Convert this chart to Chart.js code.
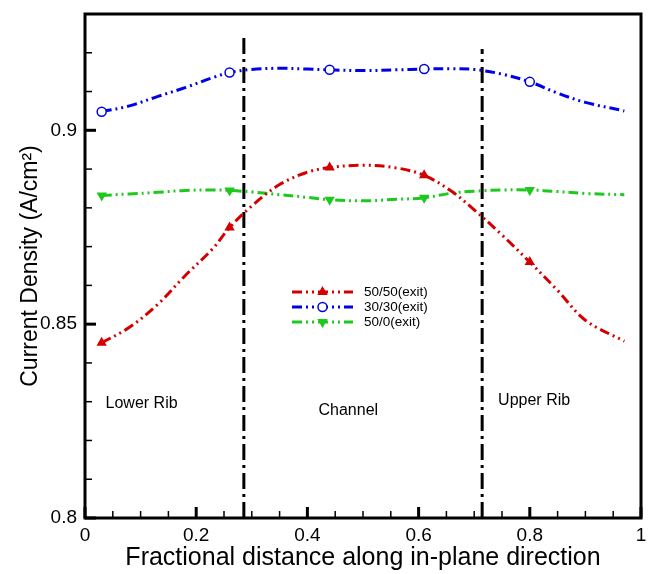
<!DOCTYPE html>
<html><head><meta charset="utf-8">
<script src="https://cdn.jsdelivr.net/npm/chart.js@4/dist/chart.umd.min.js"></script>
<style>html,body{margin:0;padding:0;background:#fff;}#wrap{width:650px;height:574px;}</style>
</head><body><div id="wrap"><canvas id="c" width="650" height="574"></canvas></div>
<script>
// ---- data ----
const positions = [0.03,0.08,0.13,0.18,0.23,0.26,0.30,0.35,0.40,0.44,0.50,0.56,0.61,0.66,0.70,0.75,0.80,0.85,0.90,0.97];
const s5050 = [0.8452,0.8492,0.8550,0.8625,0.8695,0.8749,0.8805,0.8860,0.8892,0.8904,0.8910,0.8903,0.8884,0.8842,0.8795,0.8730,0.8660,0.8587,0.8510,0.8456];
const s3030 = [0.9048,0.9063,0.9087,0.9110,0.9136,0.9149,0.9157,0.9160,0.9158,0.9156,0.9154,0.9156,0.9158,0.9159,0.9157,0.9145,0.9125,0.9096,0.9072,0.9050];
const s500  = [0.8832,0.8836,0.8840,0.8845,0.8846,0.8845,0.8841,0.8834,0.8827,0.8821,0.8818,0.8822,0.8826,0.8838,0.8843,0.8846,0.8846,0.8842,0.8837,0.8834];
const markerIndices = [0,5,9,12,16];
const seriesNames = ['50/50(exit)','30/30(exit)','50/0(exit)'];
const boundaryX = [2/7, 5/7];
const boundaryTop = [0.9242, 0.9210];
const regionNames = ['Lower Rib','Channel','Upper Rib'];
const regionX = [0.037,0.42,0.743];
const regionY = [0.8295,0.8276,0.8302];
const yRange = [0.8, 0.93];
const xRange = [0, 1];

const FONT = "'Liberation Sans', Arial, Helvetica, sans-serif";
const pts = arr => positions.map((p,i)=>({x:p,y:arr[i]}));
const mr = r => ctx => markerIndices.includes(ctx.dataIndex) ? r : 0;
const DASH = [10,4,2,4,2,4];
const isMult = (v,s) => Math.abs(v/s - Math.round(v/s)) < 1e-6;

const seriesStyles = [
  {color:'#d40000', pointStyle:'triangle', rotation:0, fill:true},
  {color:'#0000e6', pointStyle:'circle', rotation:0, fill:false},
  {color:'#1ec81e', pointStyle:'triangle', rotation:180, fill:true}
];
const seriesData = [s5050, s3030, s500];

const datasets = seriesData.map((arr,i)=>{
  const st = seriesStyles[i];
  return {
    label: seriesNames[i], data: pts(arr),
    borderColor: st.color, backgroundColor: st.fill ? st.color : '#ffffff',
    borderWidth: 3, borderDash: DASH, tension: 0.35,
    pointStyle: st.pointStyle, rotation: st.rotation,
    pointRadius: mr(4.5), pointBorderWidth: 1.5, pointBorderColor: st.color,
    pointBackgroundColor: st.fill ? st.color : '#ffffff',
    pointHoverRadius: 0
  };
});
boundaryX.forEach((bx,i)=>{
  datasets.push({label:'_b'+i, data:[{x:bx,y:yRange[0]},{x:bx,y:boundaryTop[i]}],
    borderColor:'#000', borderWidth:3, borderDash:[16,5,3,5], pointRadius:0, tension:0});
});

const decor = {
  id:'decor',
  afterDatasetsDraw(chart){
    const {ctx, chartArea:a, scales:{x,y}} = chart;
    ctx.save();
    ctx.strokeStyle = '#000';
    x.ticks.forEach(t=>{
      const px = x.getPixelForValue(t.value), major = isMult(t.value,0.2);
      ctx.lineWidth = major?3:1.5;
      ctx.beginPath(); ctx.moveTo(px,a.bottom); ctx.lineTo(px,a.bottom-(major?11:7)); ctx.stroke();
    });
    y.ticks.forEach(t=>{
      const py = y.getPixelForValue(t.value), major = isMult(t.value,0.05);
      ctx.lineWidth = major?3:1.5;
      ctx.beginPath(); ctx.moveTo(a.left,py); ctx.lineTo(a.left+(major?11:7),py); ctx.stroke();
    });
    ctx.lineWidth = 3;
    ctx.strokeRect(a.left, a.top, a.right-a.left, a.bottom-a.top);
    // region labels
    ctx.fillStyle = '#000';
    ctx.font = '16px ' + FONT;
    ctx.textBaseline = 'middle'; ctx.textAlign = 'left';
    regionNames.forEach((n,i)=>ctx.fillText(n, x.getPixelForValue(regionX[i]), y.getPixelForValue(regionY[i])));
    // legend
    const lx0 = a.left + 207, lx1 = a.left + 268, tx = a.left + 279;
    const rows = [a.top + 278, a.top + 293, a.top + 308];
    seriesNames.forEach((n,i)=>{
      const st = seriesStyles[i], ry = rows[i];
      ctx.save();
      ctx.strokeStyle = st.color; ctx.lineWidth = 3; ctx.setLineDash(DASH);
      ctx.beginPath(); ctx.moveTo(lx0, ry); ctx.lineTo(lx1, ry); ctx.stroke();
      ctx.setLineDash([]);
      ctx.fillStyle = st.fill ? st.color : '#ffffff';
      ctx.strokeStyle = st.color; ctx.lineWidth = 1.5;
      Chart.helpers.drawPoint(ctx, {pointStyle: st.pointStyle, rotation: st.rotation, radius: 4.5, borderWidth:1.5}, (lx0+lx1)/2, ry);
      ctx.restore();
      ctx.fillStyle = '#000'; ctx.font = '13.5px ' + FONT;
      ctx.textAlign='left'; ctx.textBaseline='middle';
      ctx.fillText(n, tx, ry);
    });
    ctx.restore();
  }
};

new Chart(document.getElementById('c'), {
  type: 'line',
  data: { datasets },
  options: {
    responsive:false, animation:false, devicePixelRatio:1,
    layout:{padding:{top:14,right:9,left:0,bottom:0}},
    plugins:{legend:{display:false}, tooltip:{enabled:false}},
    scales:{
      x:{type:'linear', min:xRange[0], max:xRange[1], border:{display:false},
        grid:{display:false, drawTicks:false},
        ticks:{stepSize:0.05, autoSkip:false, maxRotation:0, padding:6, color:'#000',
          font:{family:FONT, size:19},
          callback:v=> isMult(v,0.2) ? String(Math.round(v*10)/10) : ''},
        title:{display:true, text:'Fractional distance along in-plane direction', color:'#000',
          font:{family:FONT, size:25}, padding:{top:0,bottom:1}},
        afterFit: s => { s.height = 56; s.paddingLeft = 0; s.paddingRight = 0; }
      },
      y:{type:'linear', min:yRange[0], max:yRange[1], border:{display:false},
        grid:{display:false, drawTicks:false},
        ticks:{stepSize:0.01, autoSkip:false, padding:8, color:'#000',
          font:{family:FONT, size:19},
          callback:v=> isMult(v,0.05) ? String(Math.round(v*100)/100) : ''},
        title:{display:true, text:'Current Density (A/cm²)', color:'#000',
          font:{family:FONT, size:23}, padding:{top:17,bottom:0}},
        afterFit: s => { s.width = 85; s.paddingTop = 0; s.paddingBottom = 0; }
      }
    }
  },
  plugins:[decor]
});
</script></body></html>
